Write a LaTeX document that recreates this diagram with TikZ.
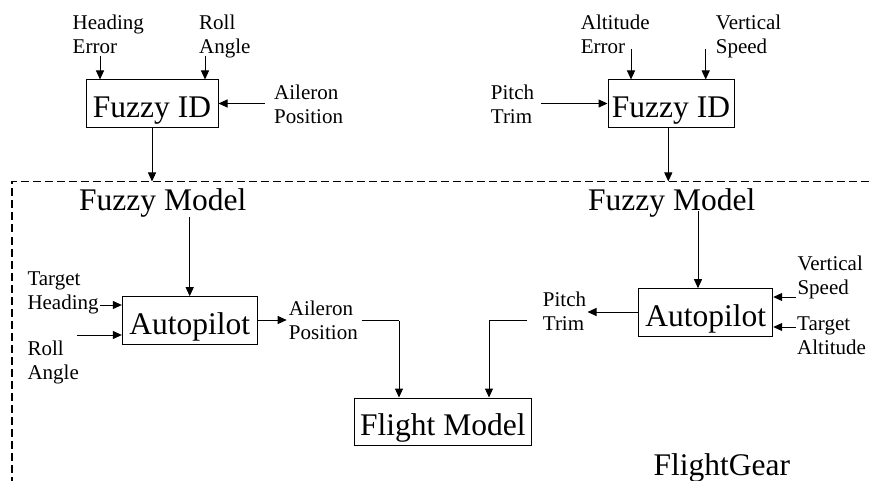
\documentclass[tikz,border=0pt]{standalone}
\usepackage{fontspec}
\setmainfont{Liberation Serif}
\usetikzlibrary{arrows.meta,calc}
\begin{document}
\begin{tikzpicture}[x=1pt,y=-1pt,
  blk/.style={draw,line width=1pt,inner sep=0pt,
    font=\fontsize{31.5}{36}\selectfont,text height=28pt,text depth=0pt},
  % two-line labels: placed at the baseline of their second line
  lbl/.style={inner sep=0pt,anchor=base west,align=left,
    font=\fontsize{21}{24}\selectfont},
  big/.style={inner sep=0pt,anchor=base west,font=\fontsize{31.5}{36}\selectfont},
  arr/.style={line width=1pt,-{Triangle[length=9pt,width=8pt]}},
  wire/.style={line width=1pt},
  frame/.style={line width=1.2pt,dash pattern=on 8pt off 4pt}]
\useasboundingbox (0,0) rectangle (869,481);

% identification blocks above the simulator boundary
\node[blk,minimum width=132pt,minimum height=48pt] (fid1) at (152,104) {Fuzzy ID};
\node[blk,minimum width=126pt,minimum height=48pt] (fid2) at (671,104) {Fuzzy ID};

\node[lbl] (he) at (72.5,54) {Heading\\Error};
\node[lbl] (ra) at (199,54) {Roll\\Angle};
\node[lbl] (ap) at (274,124) {Aileron\\Position};
\node[lbl] (ae) at (580.7,54) {Altitude\\Error};
\node[lbl] (vs) at (715.7,54) {Vertical\\Speed};
\node[lbl] (pt) at (490.7,124) {Pitch\\Trim};

\coordinate (heS) at (100,56);
\coordinate (raS) at (205,56);
\coordinate (apS) at (265,103.5);
\coordinate (aeS) at (631,49);
\coordinate (vsS) at (705.7,49);
\coordinate (ptS) at (541,103.5);
\draw[arr] (heS) -- (heS |- fid1.north);
\draw[arr] (raS) -- (raS |- fid1.north);
\draw[arr] (apS) -- (apS -| fid1.east);
\draw[arr] (aeS) -- (aeS |- fid2.north);
\draw[arr] (vsS) -- (vsS |- fid2.north);
\draw[arr] (ptS) -- (ptS -| fid2.west);

% FlightGear boundary
\coordinate (fl) at (12,181.5);
\coordinate (fr) at (869,181.5);
\coordinate (fb) at (12,481);
\draw[frame] (fr) -- (fl) -- (fb);

\draw[arr] (fid1.south) -- (fid1.south |- fl);
\coordinate (f2o) at (668.3,127.7);
\draw[arr] (f2o) -- (f2o |- fl);

% models and autopilots inside the simulator
\node[big] (fm1) at (79,210) {Fuzzy Model};
\node[big] (fm2) at (588,210) {Fuzzy Model};

\node[blk,minimum width=134.7pt,minimum height=47.6pt] (ap1) at (189.7,320.5) {Autopilot};
\node[blk,minimum width=134pt,minimum height=48pt] (ap2) at (705.7,312.7) {Autopilot};
\node[blk,minimum width=177.7pt,minimum height=47.7pt] (flm) at (442.9,421.9) {Flight Model};

\draw[arr] (ap1.north |- fm1.south) -- (ap1.north);
\coordinate (ap2in) at (698,211);
\draw[arr] (ap2in) -- (ap2in |- ap2.north);

\node[lbl] (th) at (27.3,309) {Target\\Heading};
\node[lbl] (rb) at (27.3,379) {Roll\\Angle};
\node[lbl] (apo) at (288.7,339.7) {Aileron\\Position};
\node[lbl] (pto) at (542.7,330.7) {Pitch\\Trim};
\node[lbl] (vsb) at (797.3,294) {Vertical\\Speed};
\node[lbl] (ta) at (797,354.7) {Target\\Altitude};
\node[big] (fg) at (653.3,475) {FlightGear};

\coordinate (thS) at (100,305);
\coordinate (rbS) at (77,335);
\draw[arr] (thS) -- (thS -| ap1.west);
\draw[arr] (rbS) -- (rbS -| ap1.west);
\coordinate (apoE) at (286.7,320);
\draw[arr] (ap1.east |- apoE) -- (apoE);
\coordinate (apoW) at (361.7,320.5);
\coordinate (apoC) at (399,320.5);
\draw[wire] (apoW) -- (apoC);
\draw[arr] (apoC) -- (apoC |- flm.north);

\coordinate (ptoE) at (587.5,312);
\draw[arr] (ap2.west |- ptoE) -- (ptoE);
\coordinate (ptoW) at (527,320.5);
\coordinate (ptoC) at (489,320.5);
\draw[wire] (ptoW) -- (ptoC);
\draw[arr] (ptoC) -- (ptoC |- flm.north);

\coordinate (vsbS) at (795.5,297);
\coordinate (taS) at (795.5,327);
\draw[arr] (vsbS) -- (vsbS -| ap2.east);
\draw[arr] (taS) -- (taS -| ap2.east);
\end{tikzpicture}
\end{document}
